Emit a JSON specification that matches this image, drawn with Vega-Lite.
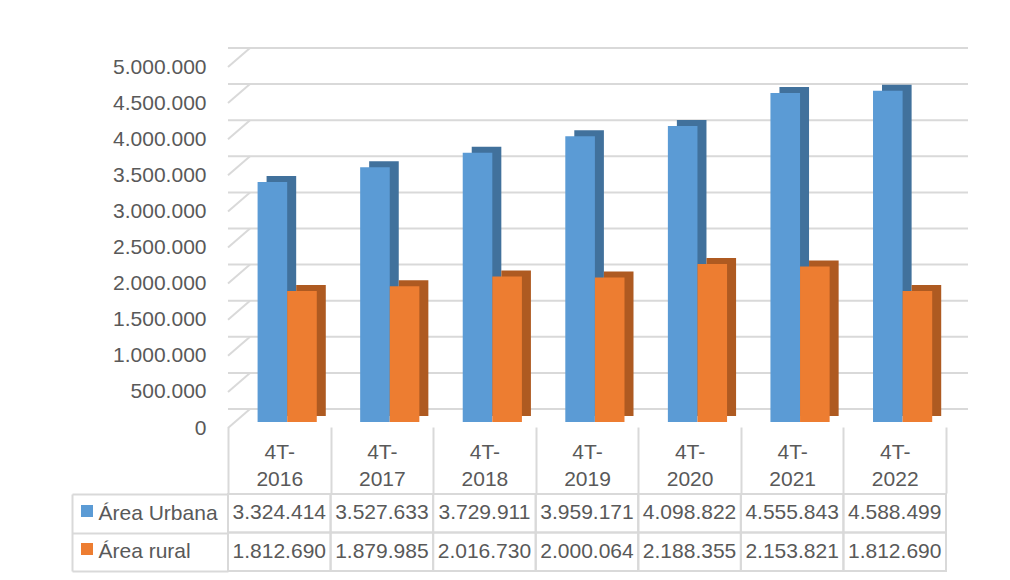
{
  "$schema": "https://vega.github.io/schema/vega-lite/v6.json",
  "padding": {"left": 71, "top": 47, "right": 5, "bottom": 5},
  "background": "white",
  "spacing": -12,
  "datasets": {
    "main": [
      {"period": "4T-2016", "serie": "Área Urbana", "value": 3324414},
      {"period": "4T-2017", "serie": "Área Urbana", "value": 3527633},
      {"period": "4T-2018", "serie": "Área Urbana", "value": 3729911},
      {"period": "4T-2019", "serie": "Área Urbana", "value": 3959171},
      {"period": "4T-2020", "serie": "Área Urbana", "value": 4098822},
      {"period": "4T-2021", "serie": "Área Urbana", "value": 4555843},
      {"period": "4T-2022", "serie": "Área Urbana", "value": 4588499},
      {"period": "4T-2016", "serie": "Área rural", "value": 1812690},
      {"period": "4T-2017", "serie": "Área rural", "value": 1879985},
      {"period": "4T-2018", "serie": "Área rural", "value": 2016730},
      {"period": "4T-2019", "serie": "Área rural", "value": 2000064},
      {"period": "4T-2020", "serie": "Área rural", "value": 2188355},
      {"period": "4T-2021", "serie": "Área rural", "value": 2153821},
      {"period": "4T-2022", "serie": "Área rural", "value": 1812690}
    ],
    "grid": [
      {"v": 0}, {"v": 500000}, {"v": 1000000}, {"v": 1500000}, {"v": 2000000},
      {"v": 2500000}, {"v": 3000000}, {"v": 3500000}, {"v": 4000000},
      {"v": 4500000}, {"v": 5000000}
    ]
  },
  "vconcat": [
    {
      "width": 718,
      "height": 361,
      "layer": [
        {
          "data": {"name": "grid"},
          "mark": {"type": "rule", "color": "#d9d9d9", "strokeWidth": 2, "yOffset": -13, "xOffset": 22, "x2Offset": 28},
          "encoding": {
            "y": {
              "field": "v", "type": "quantitative",
              "scale": {"domain": [0, 5000000], "nice": false}
            }
          }
        },
        {
          "data": {"name": "grid"},
          "mark": {"type": "rule", "color": "#d9d9d9", "strokeWidth": 2, "yOffset": 6, "y2Offset": -13, "x2Offset": 22},
          "encoding": {
            "x": {"datum": "4T-2016", "type": "nominal", "bandPosition": 0},
            "x2": {"datum": "4T-2016", "bandPosition": 0},
            "y": {"field": "v", "type": "quantitative"},
            "y2": {"field": "v"}
          }
        },
        {
          "data": {"name": "main"},
          "transform": [{"filter": "datum.serie == 'Área Urbana'"}],
          "mark": {"type": "bar", "width": 29.6, "xOffset": 2.1, "yOffset": -6, "y2Offset": -6, "color": "#41719c"},
          "encoding": {
            "x": {
              "field": "period", "type": "nominal",
              "scale": {"paddingInner": 0, "paddingOuter": 0},
              "axis": {
                "title": null, "orient": "bottom", "offset": 5, "tickBand": "extent", "tickSize": 66,
                "tickColor": "#d9d9d9", "tickWidth": 2, "domain": false, "grid": false,
                "labelExpr": "[slice(datum.label,0,3), slice(datum.label,3)]",
                "labelFontSize": 21, "labelColor": "#595959", "labelLineHeight": 27,
                "labelBaseline": "middle", "labelAlign": "center", "labelPadding": -41, "labelAngle": 0
              }
            },
            "y": {"field": "value", "type": "quantitative"}
          }
        },
        {
          "data": {"name": "main"},
          "transform": [{"filter": "datum.serie == 'Área rural'"}],
          "mark": {"type": "bar", "width": 29.6, "xOffset": 31.7, "yOffset": -6, "y2Offset": -6, "color": "#ae5a21"},
          "encoding": {
            "x": {"field": "period", "type": "nominal"},
            "y": {"field": "value", "type": "quantitative"}
          }
        },
        {
          "data": {"name": "main"},
          "mark": {"type": "bar"},
          "encoding": {
            "x": {"field": "period", "type": "nominal"},
            "xOffset": {
              "field": "serie", "type": "nominal", "sort": ["Área Urbana", "Área rural"],
              "scale": {"paddingInner": 0, "paddingOuter": 0.733, "align": 0.682}
            },
            "y": {"field": "value", "type": "quantitative"},
            "color": {
              "field": "serie", "type": "nominal",
              "scale": {"domain": ["Área Urbana", "Área rural"], "range": ["#5b9bd5", "#ed7d31"]},
              "legend": {
                "orient": "none", "legendX": -147, "legendY": 444, "title": null,
                "symbolType": "square", "symbolSize": 144, "symbolStrokeWidth": 0,
                "labelExpr": "''", "labelFontSize": 1, "rowPadding": 26, "padding": 0
              }
            }
          }
        }
      ],
      "resolve": {"axis": {"y": "shared"}}
    },
    {
      "width": 718,
      "height": 77,
      "data": {"name": "main"},
      "encoding": {
        "x": {"field": "period", "type": "nominal", "axis": null, "scale": {"paddingInner": 0, "paddingOuter": 0}},
        "y": {
          "field": "serie", "type": "nominal", "sort": ["Área Urbana", "Área rural"],
          "scale": {"paddingInner": 0, "paddingOuter": 0},
          "axis": {
            "title": null, "orient": "left", "offset": 156, "domain": true, "domainColor": "#d9d9d9", "domainWidth": 2,
            "ticks": true, "tickBand": "extent", "tickSize": -156, "tickColor": "#d9d9d9", "tickWidth": 2,
            "grid": false, "labelAlign": "left", "labelPadding": 130, "labelFontSize": 21, "labelColor": "#595959",
            "labelBaseline": "middle"
          }
        }
      },
      "layer": [
        {"mark": {"type": "rect", "fill": "transparent", "stroke": "#d9d9d9", "strokeWidth": 2}},
        {
          "mark": {"type": "text", "fontSize": 21, "color": "#595959"},
          "encoding": {"text": {"field": "value", "type": "quantitative", "format": ",d"}}
        }
      ]
    }
  ],
  "config": {
    "locale": {"number": {"decimal": ",", "thousands": ".", "grouping": [3], "currency": ["", ""]}},
    "font": "Liberation Sans",
    "axis": {"labelFont": "Liberation Sans"},
    "axisQuantitative": {
      "values": [0, 500000, 1000000, 1500000, 2000000, 2500000, 3000000, 3500000, 4000000, 4500000, 5000000],
      "format": ",d", "ticks": false, "domain": false, "grid": false, "labelOverlap": false, "title": null,
      "labelPadding": 22, "labelOffset": 6, "labelFontSize": 21, "labelColor": "#595959"
    },
    "text": {"font": "Liberation Sans"},
    "view": {"stroke": null}
  }
}
